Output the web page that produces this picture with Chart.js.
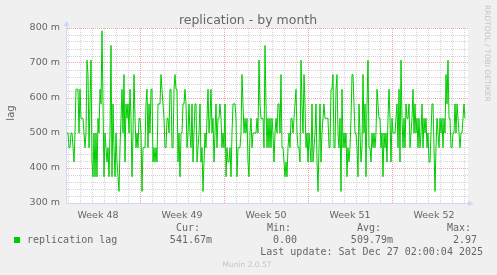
<!DOCTYPE html>
<html><head><meta charset="utf-8">
<script src="https://cdn.jsdelivr.net/npm/chart.js@4/dist/chart.umd.min.js"></script>
<style>html,body{margin:0;padding:0;background:#f0f0f0;overflow:hidden}canvas{display:block}</style>
</head><body>
<canvas id="c" width="497" height="275"></canvas>
<script>
// ---- data ----
const chartTitle = 'replication - by month';
const yAxisTitle = 'lag';
const seriesName = 'replication lag';
const weekLabels = ['Week 48', 'Week 49', 'Week 50', 'Week 51', 'Week 52'];
const weekStartHours = [-22, 146, 314, 482, 650]; // hours from graph start
const spanHours = 802;
const stepHours = 2;
const yMin = 300, yMax = 800, yMinorStep = 20, yMajorStep = 100;
const statLabels = ['Cur:', 'Min:', 'Avg:', 'Max:'];
const statValues = ['541.67m', '0.00', '509.79m', '2.97'];
const lastUpdate = 'Last update: Sat Dec 27 02:00:04 2025';
const footerText = 'Munin 2.0.57';
const watermarkText = 'RRDTOOL / TOBI OETIKER';
// replication lag, milli-units, one value per 2 hours
const lag = [
500,500,458,458,500,500,458,417,500,625,625,625,500,625,542,542,542,500,458,500,
708,667,458,583,708,417,375,500,375,500,375,542,500,625,583,792,583,375,500,458,
417,458,375,500,750,375,583,458,375,500,417,375,333,458,542,625,500,667,417,583,
542,583,500,625,542,
375,500,667,542,458,500,458,542,542,500,333,458,458,458,583,625,458,583,500,625,
625,417,458,417,458,417,583,583,583,667,625,583,542,458,458,542,542,500,625,625,
458,458,625,667,625,625,417,500,375,500,500,583,583,625,583,458,500,583,500,458,
583,417,500,583,583,417,458,500,
583,417,458,333,417,500,458,542,625,500,542,625,500,542,417,500,583,458,542,542,
583,542,458,500,458,583,375,458,417,417,458,375,500,583,583,583,542,375,458,458,
458,500,667,583,500,542,500,542,417,375,500,542,458,500,500,500,500,542,500,708,
583,542,542,542,458,750,583,458,
542,458,542,458,542,500,417,500,542,500,583,583,500,667,458,458,417,375,417,375,
458,500,458,542,542,500,542,583,625,500,458,458,417,708,583,500,667,583,458,500,
417,500,458,417,583,417,458,500,583,417,333,458,583,417,500,542,583,542,542,542,
542,458,458,625,625,667,458,458,
625,667,500,458,542,333,625,458,500,458,500,375,458,417,458,542,667,667,583,500,
500,458,375,583,500,417,458,667,500,583,375,583,708,458,458,417,500,458,500,458,
500,625,583,542,542,458,500,375,500,458,500,417,542,625,542,417,542,500,500,500,
542,583,458,625,417,708,542,458,
542,458,583,542,542,583,458,500,542,625,500,583,500,542,458,542,458,500,583,458,
542,500,542,458,500,417,417,500,583,583,458,333,458,542,500,458,542,500,542,458,
542,500,667,583,708,542,542,458,458,500,500,583,500,583,542,500,458,500,500,542,
583,542
];

// ---- styles ----
const FONT = '#666666';
const MINOR = 'rgba(150,150,150,0.42)';
const MAJOR = 'rgba(224,80,80,0.5)';
const AXIS = '#CFD6F8';
const LINE = '#00cc00';

const points = lag.map((v, i) => ({ x: i * stepHours, y: v }));
const dayTicks = [];
for (let h = weekStartHours[0] + 24; h <= spanHours; h += 24) if (h >= 0) dayTicks.push(h);
const isWeekStart = h => weekStartHours.includes(h) || ((h - weekStartHours[0]) % 168 === 0);

const deco = {
  id: 'deco',
  beforeDraw(chart) {
    const { ctx, chartArea: a } = chart;
    ctx.save();
    ctx.fillStyle = '#f0f0f0';
    ctx.fillRect(0, 0, chart.width, chart.height);
    ctx.fillStyle = '#ffffff';
    ctx.fillRect(a.left, a.top, a.right - a.left, a.bottom - a.top);
    ctx.restore();
  },
  beforeDatasetsDraw(chart) {
    const { ctx, chartArea: a } = chart;
    ctx.save();
    ctx.strokeStyle = AXIS; ctx.fillStyle = AXIS; ctx.lineWidth = 1;
    ctx.beginPath();
    ctx.moveTo(a.left - 0.5, a.bottom + 0.5); ctx.lineTo(a.left - 0.5, a.top - 3);
    ctx.moveTo(a.left - 0.5, a.bottom + 0.5); ctx.lineTo(a.right + 2, a.bottom + 0.5);
    ctx.stroke();
    ctx.beginPath();
    ctx.moveTo(a.left - 3.5, a.top - 2); ctx.lineTo(a.left + 2.5, a.top - 2); ctx.lineTo(a.left - 0.5, a.top - 7.5); ctx.closePath(); ctx.fill();
    ctx.beginPath();
    ctx.moveTo(a.right, a.bottom - 2.5); ctx.lineTo(a.right, a.bottom + 3.5); ctx.lineTo(a.right + 5.5, a.bottom + 0.5); ctx.closePath(); ctx.fill();
    ctx.restore();
  },
  afterDraw(chart) {
    const { ctx } = chart;
    ctx.save();
    ctx.textBaseline = 'alphabetic';
    // title
    ctx.fillStyle = FONT;
    ctx.font = '12.5px "DejaVu Sans"';
    ctx.textAlign = 'center';
    ctx.fillText(chartTitle, 248, 23.5);
    // y axis title
    ctx.save();
    ctx.translate(14, 113);
    ctx.rotate(-Math.PI / 2);
    ctx.font = '10px "DejaVu Sans"';
    ctx.textAlign = 'center';
    ctx.fillText(yAxisTitle, 0, 0);
    ctx.restore();
    // watermark right
    ctx.save();
    ctx.translate(485, 5);
    ctx.rotate(Math.PI / 2);
    ctx.font = '7.5px "DejaVu Sans"';
    ctx.fillStyle = '#c4c4c4';
    ctx.textAlign = 'left';
    ctx.fillText(watermarkText, 0, 0);
    ctx.restore();
    // legend
    ctx.font = '10px "DejaVu Sans Mono"';
    ctx.fillStyle = FONT;
    ctx.textAlign = 'left';
    const labelX = [176, 267, 357, 447];
    const valueRight = [212, 297, 393, 477];
    statLabels.forEach((t, i) => ctx.fillText(t, labelX[i], 231));
    ctx.textAlign = 'right';
    statValues.forEach((t, i) => ctx.fillText(t, valueRight[i], 243));
    ctx.textAlign = 'left';
    ctx.fillText(seriesName, 27, 243);
    ctx.fillStyle = LINE;
    ctx.fillRect(14, 237, 6, 6);
    ctx.fillStyle = FONT;
    ctx.textAlign = 'right';
    ctx.fillText(lastUpdate, 483, 255);
    // footer
    ctx.font = '7.5px "DejaVu Sans"';
    ctx.fillStyle = '#c4c4c4';
    ctx.textAlign = 'center';
    ctx.fillText(footerText, 247, 267);
    ctx.restore();
  }
};

new Chart(document.getElementById('c'), {
  type: 'line',
  data: { datasets: [{ label: seriesName, data: points, borderColor: LINE, borderWidth: 1,
    pointRadius: 0, fill: false, tension: 0, borderJoinStyle: 'round' }] },
  options: {
    responsive: false, animation: false, devicePixelRatio: 1,
    layout: { padding: { left: 0, right: 29, top: 28, bottom: 0 } },
    plugins: { legend: { display: false }, tooltip: { enabled: false }, title: { display: false } },
    scales: {
      x: {
        type: 'linear', min: 0, max: spanHours, position: 'bottom',
        afterBuildTicks: s => { s.ticks = dayTicks.map(v => ({ value: v })); },
        afterFit: s => { s.height = 0; },
        ticks: { display: false },
        grid: { color: c => isWeekStart(c.tick.value) ? MAJOR : MINOR, drawTicks: false, lineWidth: 1 },
        border: { display: false, dash: [1, 1] }
      },
      x2: {
        type: 'linear', min: 0, max: spanHours, position: 'bottom',
        afterBuildTicks: s => { s.ticks = weekStartHours.map(h => ({ value: h + 84 })); },
        afterFit: s => { s.height = 72; },
        ticks: { autoSkip: false, maxRotation: 0, padding: -1, color: FONT,
          font: { family: 'DejaVu Sans', size: 9.5 }, callback: (v, i) => weekLabels[i] },
        grid: { display: false }, border: { display: false }
      },
      y: {
        min: yMin, max: yMax,
        afterFit: s => { s.width = 67; },
        ticks: { stepSize: yMinorStep, autoSkip: false, padding: 7, color: FONT,
          font: { family: 'DejaVu Sans', size: 9.5 },
          callback: v => (v % yMajorStep === 0 ? v + ' m' : '') },
        grid: { color: c => (c.tick.value % yMajorStep === 0 ? MAJOR : MINOR), drawTicks: false, lineWidth: 1 },
        border: { display: false, dash: [1, 1] }
      }
    }
  },
  plugins: [deco]
});
</script>
</body></html>
